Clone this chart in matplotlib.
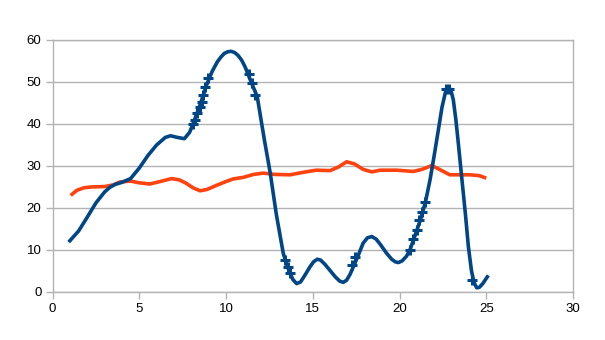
import matplotlib.pyplot as plt
import numpy as np

plt.rcParams['font.family'] = ['Liberation Sans', 'DejaVu Sans']

# 青の系列 (曲線の読み取り値)
blue_x = [1.0, 1.5, 2.0, 2.5, 3.0, 3.3, 3.6, 4.0, 4.5, 5.0, 5.5, 6.0, 6.5, 6.8,
          7.2, 7.6, 7.9, 8.1, 8.5, 8.9, 9.2, 9.5, 9.7, 9.9, 10.1, 10.3, 10.5,
          10.7, 10.9, 11.1, 11.4, 11.8, 12.2, 12.55, 12.9, 13.3, 13.6, 13.85,
          14.07, 14.3, 14.55, 14.84, 15.05, 15.26, 15.45, 15.7, 15.98, 16.3,
          16.55, 16.76, 16.95, 17.15, 17.34, 17.6, 17.9, 18.15, 18.4, 18.65,
          18.9, 19.26, 19.55, 19.75, 19.93, 20.15, 20.4, 20.6, 20.9, 21.2, 21.5,
          21.76, 22.0, 22.24, 22.45, 22.65, 22.8, 22.95, 23.1, 23.25, 23.4, 23.6,
          23.8, 23.97, 24.15, 24.3, 24.45, 24.6, 24.8, 25.06]
blue_y = [12.2, 14.5, 17.8, 21.2, 23.8, 24.9, 25.6, 26.1, 27.0, 29.5, 32.5, 35.0,
          36.8, 37.2, 36.8, 36.5, 38.0, 40.0, 44.5, 49.5, 52.5, 54.8, 55.9, 56.8,
          57.2, 57.3, 57.0, 56.3, 55.2, 53.6, 50.5, 46.5, 36.5, 28.3, 18.5, 9.2,
          5.4, 3.0, 2.0, 2.4, 4.0, 6.0, 7.2, 7.8, 7.6, 6.6, 5.2, 3.6, 2.6, 2.3,
          2.8, 4.2, 6.0, 8.5, 11.6, 12.9, 13.2, 12.6, 11.3, 9.2, 7.8, 7.2, 7.0,
          7.4, 8.5, 10.0, 13.5, 17.1, 21.5, 26.7, 32.5, 38.6, 44.0, 47.6, 48.7,
          48.2, 45.8, 41.0, 35.0, 26.7, 18.5, 10.8, 5.0, 2.2, 1.0, 1.1, 2.0, 3.6]

# 青の系列のマーカー位置
mark_x = [8.1, 8.2, 8.35, 8.5, 8.6, 8.7, 8.8, 8.95, 11.3, 11.48, 11.67,
          13.4, 13.6, 13.7, 17.25, 17.44, 20.6, 20.8, 21.0, 21.1, 21.3, 21.47,
          22.7, 22.85, 24.2]
mark_y = [40.0, 41.0, 42.5, 44.0, 45.3, 47.0, 48.9, 51.0, 51.9, 49.7, 46.8,
          7.6, 6.0, 4.5, 6.4, 8.4, 10.0, 12.5, 14.8, 17.1, 19.1, 21.5,
          48.3, 48.3, 2.9]

# オレンジの系列
orange_x = [1.05, 1.4, 1.8, 2.2, 3.0, 3.5, 3.9, 4.5, 5.0, 5.6, 6.2, 6.87, 7.3,
            7.7, 8.1, 8.5, 8.9, 9.4, 10.0, 10.4, 11.0, 11.6, 12.15, 12.8, 13.7,
            14.07, 14.6, 15.2, 16.0, 16.5, 16.95, 17.4, 17.9, 18.4, 18.9, 19.84,
            20.8, 21.3, 21.86, 22.3, 22.9, 24.06, 24.6, 25.0]
orange_y = [23.0, 24.2, 24.8, 25.0, 25.1, 25.5, 26.2, 26.4, 26.0, 25.7, 26.3,
            27.0, 26.7, 25.9, 24.8, 24.1, 24.4, 25.3, 26.3, 26.9, 27.3, 28.0,
            28.3, 28.0, 27.9, 28.2, 28.6, 29.0, 28.9, 29.8, 31.0, 30.5, 29.2,
            28.6, 29.0, 29.0, 28.7, 29.2, 30.1, 29.2, 27.9, 27.9, 27.7, 27.1]

fig = plt.figure(figsize=(6.05, 3.4), dpi=100)
ax = fig.add_axes([0.0868, 0.1412, 0.8603, 0.7412])

grid_color = '#b3b3b3'
ax.plot(orange_x, orange_y, color='#ff420e', lw=2.6, solid_capstyle='butt',
        solid_joinstyle='round', zorder=3)
ax.plot(blue_x, blue_y, color='#004586', lw=2.6, solid_joinstyle='round', zorder=4)
ax.plot(mark_x, mark_y, ls='none', marker='+', ms=7, mew=2.2, color='#004586', zorder=5)

ax.set_xlim(0, 30)
ax.set_ylim(0, 60)
ax.set_xticks(np.arange(0, 31, 5))
ax.set_yticks(np.arange(0, 61, 10))
ax.yaxis.grid(True, color=grid_color, lw=1)
ax.set_axisbelow(True)

for side in ['left', 'bottom', 'right', 'top']:
    ax.spines[side].set_color(grid_color)
    ax.spines[side].set_linewidth(1)
ax.tick_params(axis='both', direction='out', length=5, width=1, color=grid_color,
               labelsize=9.5, labelcolor='black', pad=3)
ax.tick_params(axis='y', right=False)

plt.savefig('out.png', dpi=100)
